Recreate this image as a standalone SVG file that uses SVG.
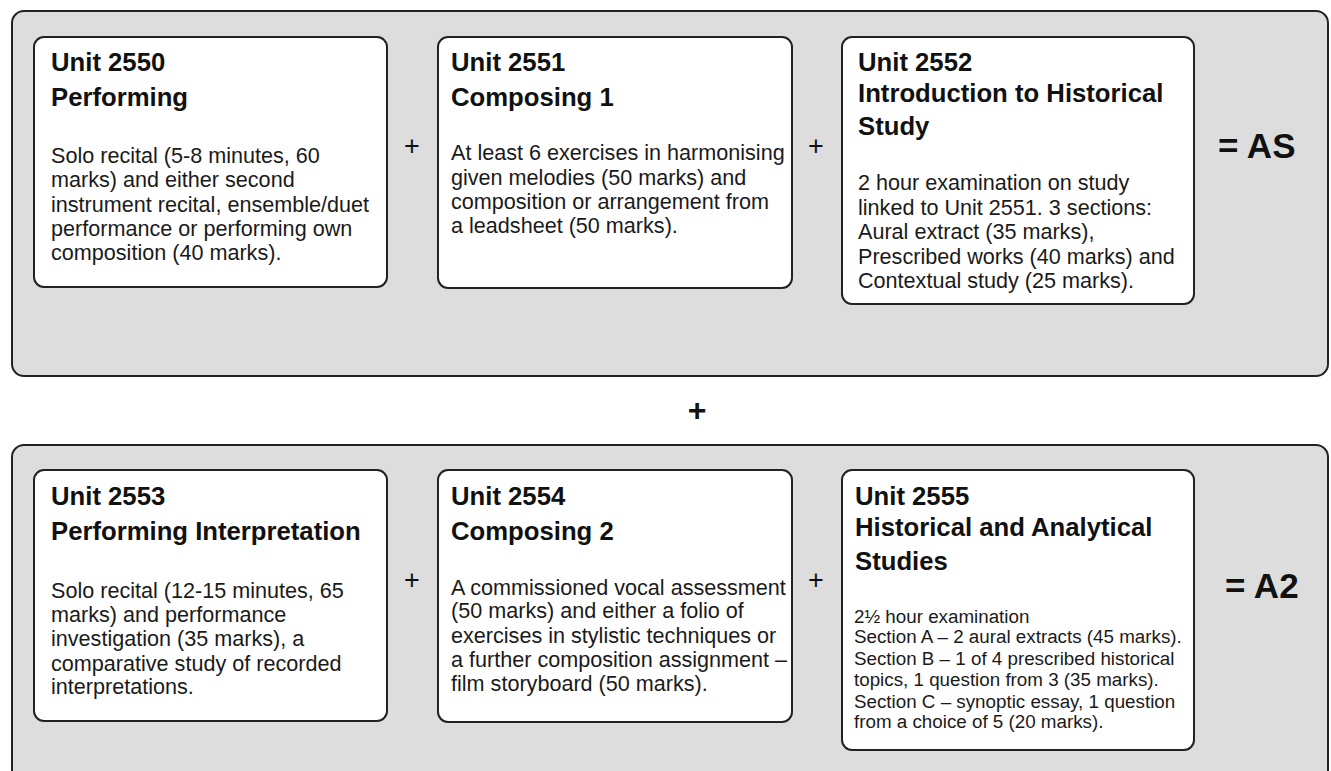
<svg xmlns="http://www.w3.org/2000/svg" width="1331" height="771" viewBox="0 0 1331 771">
<style>
.panel{fill:#dddddd;stroke:#222;stroke-width:2}
.box{fill:#fff;stroke:#222;stroke-width:2}
.h{font-family:"Liberation Sans",Arial,sans-serif;font-weight:bold;font-size:25.7px;fill:#111}
.b{font-family:"Liberation Sans",Arial,sans-serif;font-size:21.6px;fill:#1a1a1a}
.s{font-family:"Liberation Sans",Arial,sans-serif;font-size:18.8px;fill:#1a1a1a}
.op{font-family:"Liberation Sans",Arial,sans-serif;font-size:27px;fill:#111;text-anchor:middle}
.res{font-family:"Liberation Sans",Arial,sans-serif;font-weight:bold;font-size:35px;fill:#111}
</style>
<rect width="1331" height="771" fill="#fff"/>
<g id="panel-as">
<rect class="panel" x="12" y="11" width="1316" height="365" rx="12"/>
</g>
<g id="panel-a2">
<rect class="panel" x="12" y="445" width="1316" height="340" rx="12"/>
</g>
<g id="unit2550">
<rect class="box" x="34" y="37" width="353" height="250" rx="10"/>
<text class="h" x="51" y="71">Unit 2550</text>
<text class="h" x="51" y="106">Performing</text>
<text class="b" x="51" y="163">Solo recital (5-8 minutes, 60</text>
<text class="b" x="51" y="187">marks) and either second</text>
<text class="b" x="51" y="212">instrument recital, ensemble/duet</text>
<text class="b" x="51" y="236">performance or performing own</text>
<text class="b" x="51" y="260">composition (40 marks).</text>
</g>
<g id="unit2551">
<rect class="box" x="438" y="37" width="354" height="251" rx="10"/>
<text class="h" x="451" y="71">Unit 2551</text>
<text class="h" x="451" y="106">Composing 1</text>
<text class="b" x="451" y="160">At least 6 exercises in harmonising</text>
<text class="b" x="451" y="185">given melodies (50 marks) and</text>
<text class="b" x="451" y="209">composition or arrangement from</text>
<text class="b" x="451" y="233">a leadsheet (50 marks).</text>
</g>
<g id="unit2552">
<rect class="box" x="842" y="37" width="352" height="267" rx="10"/>
<text class="h" x="858" y="71">Unit 2552</text>
<text class="h" x="858" y="102">Introduction to Historical</text>
<text class="h" x="858" y="135">Study</text>
<text class="b" x="858" y="190">2 hour examination on study</text>
<text class="b" x="858" y="215">linked to Unit 2551. 3 sections:</text>
<text class="b" x="858" y="239">Aural extract (35 marks),</text>
<text class="b" x="858" y="264">Prescribed works (40 marks) and</text>
<text class="b" x="858" y="288">Contextual study (25 marks).</text>
</g>
<g id="unit2553">
<rect class="box" x="34" y="470" width="353" height="251" rx="10"/>
<text class="h" x="51" y="505">Unit 2553</text>
<text class="h" x="51" y="540">Performing Interpretation</text>
<text class="b" x="51" y="598">Solo recital (12-15 minutes, 65</text>
<text class="b" x="51" y="622">marks) and performance</text>
<text class="b" x="51" y="646">investigation (35 marks), a</text>
<text class="b" x="51" y="671">comparative study of recorded</text>
<text class="b" x="51" y="694">interpretations.</text>
</g>
<g id="unit2554">
<rect class="box" x="438" y="470" width="354" height="252" rx="10"/>
<text class="h" x="451" y="505">Unit 2554</text>
<text class="h" x="451" y="540">Composing 2</text>
<text class="b" x="451" y="595">A commissioned vocal assessment</text>
<text class="b" x="451" y="618">(50 marks) and either a folio of</text>
<text class="b" x="451" y="643">exercises in stylistic techniques or</text>
<text class="b" x="451" y="667">a further composition assignment –</text>
<text class="b" x="451" y="691">film storyboard (50 marks).</text>
</g>
<g id="unit2555">
<rect class="box" x="842" y="470" width="352" height="280" rx="10"/>
<text class="h" x="855" y="505">Unit 2555</text>
<text class="h" x="855" y="536">Historical and Analytical</text>
<text class="h" x="855" y="570">Studies</text>
<text class="s" x="854" y="623">2½ hour examination</text>
<text class="s" x="854" y="643">Section A – 2 aural extracts (45 marks).</text>
<text class="s" x="854" y="665">Section B – 1 of 4 prescribed historical</text>
<text class="s" x="854" y="686">topics, 1 question from 3 (35 marks).</text>
<text class="s" x="854" y="708">Section C – synoptic essay, 1 question</text>
<text class="s" x="854" y="728">from a choice of 5 (20 marks).</text>
</g>
<g id="operators">
<text class="op" x="412" y="155">+</text>
<text class="op" x="816" y="155">+</text>
<text class="op" x="412" y="589">+</text>
<text class="op" x="816" y="589">+</text>
<text class="op" x="697" y="421" style="font-weight:bold;font-size:32px">+</text>
<text class="res" x="1218" y="158">= AS</text>
<text class="res" x="1225" y="598">= A2</text>
</g>
</svg>
